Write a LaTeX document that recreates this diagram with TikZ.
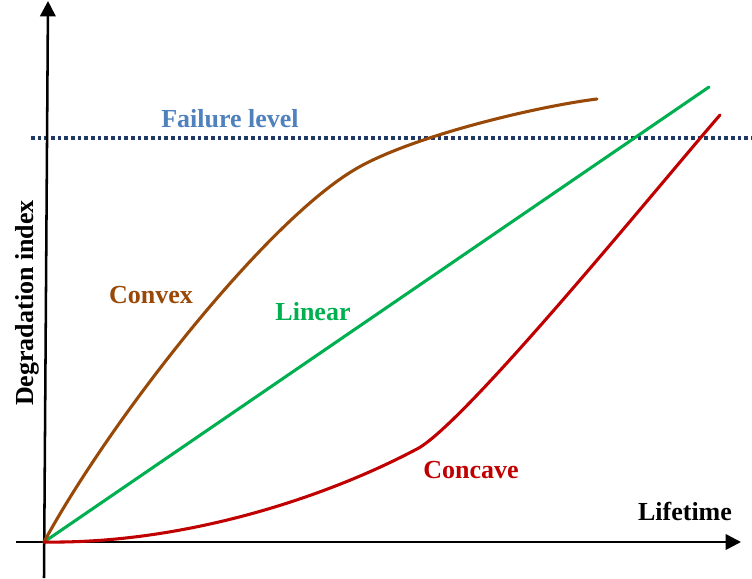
\documentclass[tikz,border=0pt]{standalone}
\usepackage{fontspec}
\setmainfont{Liberation Serif}
\usetikzlibrary{arrows.meta}
\definecolor{brownc}{RGB}{152,72,7}
\definecolor{greenc}{RGB}{0,176,80}
\definecolor{redc}{RGB}{192,0,0}
\definecolor{bluetxt}{RGB}{79,129,189}
\definecolor{navyc}{RGB}{31,56,100}
\begin{document}
\begin{tikzpicture}[x=0.75pt,y=-0.75pt,
  lbl/.style={anchor=base,inner sep=0pt,font=\fontsize{19.5}{23}\selectfont\bfseries},
  axis/.style={line width=1.9pt,-{Triangle[length=11.5pt,width=11.5pt]}},
  curve/.style={line width=2.3pt,line cap=round}]
\useasboundingbox (0,0) rectangle (752,578);
\coordinate (O) at (44,542);
\coordinate (ybot) at (44,578);
\coordinate (ytop) at (48,1);
\coordinate (xleft) at (16,542);
\coordinate (xright) at (741,542);
\coordinate (fl1) at (31,138);
\coordinate (fl2) at (752,138);
\coordinate (bmid) at (361,166);
\coordinate (bend) at (597,99);
\coordinate (rmid) at (415,450);
\coordinate (rend) at (720,115);
\coordinate (gend) at (709,87);
% failure level
\draw[navyc,line width=2.6pt,dash pattern=on 2.7pt off 2.3pt] (fl1) -- (fl2);
% axes
\draw[axis] (ybot) -- (ytop);
\draw[axis] (xleft) -- (xright);
% curves
\draw[curve,greenc] (O) -- (gend);
\draw[curve,brownc] (O) .. controls (110,420) and (270,215) .. (bmid)
  .. controls (420,134) and (540,106) .. (bend);
\draw[curve,redc] (O) .. controls (180,544) and (320,500) .. (rmid)
  .. controls (460,430) and (655,190) .. (rend);
% labels
\node[lbl,bluetxt] (tfail) at (230,127) {Failure level};
\node[lbl,brownc] (tconvex) at (151,303) {Convex};
\node[lbl,greenc] (tlinear) at (313,320) {Linear};
\node[lbl,redc] (tconcave) at (471,478) {Concave};
\node[lbl,black] (tlife) at (685,520) {Lifetime};
\node[lbl,black,rotate=90] (tdeg) at (33,303) {Degradation index};
\end{tikzpicture}
\end{document}
